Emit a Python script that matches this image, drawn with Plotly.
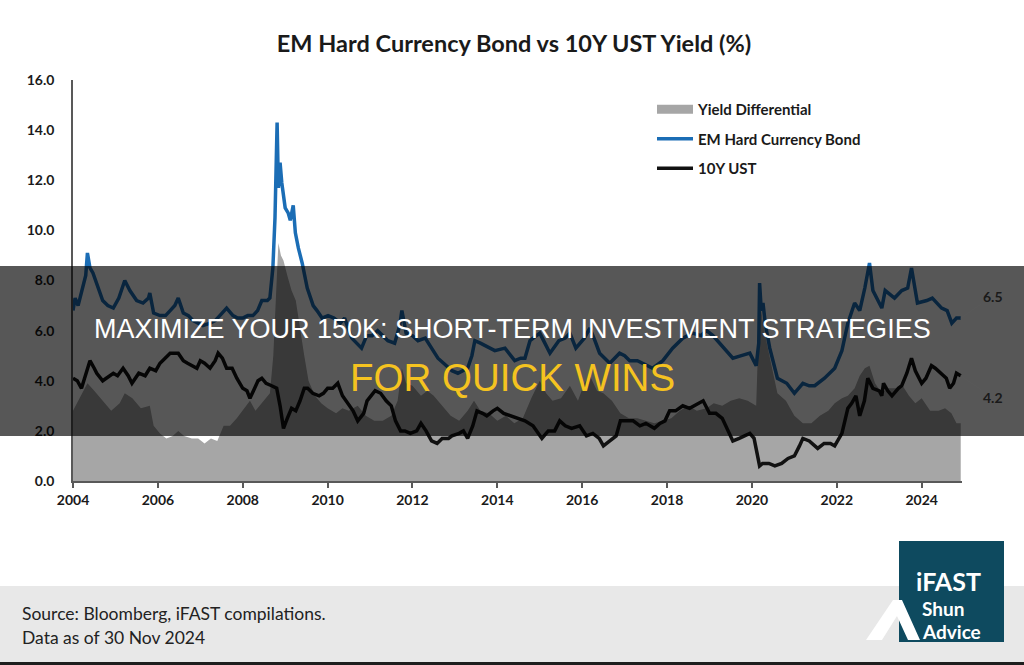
import plotly.graph_objects as go

# ---------------- data ----------------
em_x = [2004.00, 2004.05, 2004.12, 2004.22, 2004.30, 2004.34, 2004.40, 2004.47, 2004.56, 2004.70,
        2004.82, 2004.95, 2005.08, 2005.22, 2005.34, 2005.50, 2005.65, 2005.78, 2005.81, 2005.90,
        2006.05, 2006.18, 2006.29, 2006.40, 2006.48, 2006.60, 2006.72, 2006.83, 2006.95, 2007.06,
        2007.23, 2007.35, 2007.46, 2007.55, 2007.62, 2007.77, 2007.88, 2008.00, 2008.12, 2008.24,
        2008.35, 2008.45, 2008.58, 2008.64, 2008.71, 2008.76, 2008.81, 2008.84, 2008.88, 2008.92,
        2009.00, 2009.07, 2009.12, 2009.19, 2009.24, 2009.31, 2009.40, 2009.52, 2009.66, 2009.75,
        2009.87, 2010.01, 2010.15, 2010.30, 2010.40, 2010.57, 2010.80, 2010.92, 2011.05, 2011.18,
        2011.30, 2011.42, 2011.58, 2011.70, 2011.75, 2011.85, 2012.00, 2012.13, 2012.30, 2012.45,
        2012.60, 2012.80, 2012.93, 2013.07, 2013.30, 2013.40, 2013.47, 2013.60, 2013.80, 2013.94,
        2014.18, 2014.41, 2014.55, 2014.65, 2014.77, 2015.00, 2015.12, 2015.24, 2015.45, 2015.60,
        2015.71, 2015.85, 2016.05, 2016.18, 2016.30, 2016.41, 2016.65, 2016.88, 2017.00, 2017.12,
        2017.30, 2017.43, 2017.66, 2017.90, 2018.13, 2018.37, 2018.60, 2018.80, 2018.93, 2019.08,
        2019.24, 2019.40, 2019.55, 2019.75, 2019.95, 2020.10, 2020.16, 2020.18, 2020.22, 2020.26,
        2020.32, 2020.42, 2020.60, 2020.82, 2021.00, 2021.20, 2021.35, 2021.48, 2021.71, 2021.95,
        2022.12, 2022.26, 2022.42, 2022.54, 2022.66, 2022.77, 2022.85, 2023.06, 2023.14, 2023.36,
        2023.53, 2023.67, 2023.76, 2023.90, 2024.12, 2024.25, 2024.47, 2024.60, 2024.71, 2024.82,
        2024.92]
em_y = [6.8, 7.3, 7.0, 7.6, 8.2, 9.1, 8.5, 8.3, 7.9, 7.2,
        7.0, 6.9, 7.3, 8.0, 7.6, 7.2, 7.1, 7.3, 7.5, 6.7,
        6.6, 6.6, 6.8, 7.0, 7.3, 6.7, 6.6, 6.4, 6.3, 6.2,
        6.3, 6.4, 6.6, 6.8, 6.9, 6.6, 6.5, 6.5, 6.6, 6.6,
        6.8, 7.2, 7.2, 7.3, 8.5, 10.5, 14.3, 11.7, 12.7, 11.9,
        10.9, 10.7, 10.4, 11.0, 9.9, 9.3, 8.7, 7.7, 7.0, 6.8,
        6.5, 6.6, 6.5, 6.3, 6.5, 5.7, 5.3, 5.8, 5.8, 6.0,
        5.8, 5.6, 5.5, 6.2, 6.8, 5.9, 5.8, 5.6, 5.7, 5.3,
        4.9, 4.6, 4.4, 4.3, 4.5, 5.0, 5.6, 5.5, 5.3, 5.2,
        5.3, 4.8, 4.9, 4.9, 5.6, 5.9, 5.5, 5.1, 5.6, 5.7,
        5.9, 5.3, 5.7, 6.1, 5.6, 5.1, 4.7, 5.1, 5.0, 4.8,
        4.8, 4.7, 4.5, 4.8, 5.3, 5.7, 5.9, 5.8, 6.0, 5.8,
        5.5, 5.2, 4.9, 5.0, 5.1, 4.6, 5.5, 7.9, 6.8, 7.1,
        6.2, 5.3, 4.1, 3.9, 3.5, 3.9, 3.8, 3.8, 4.1, 4.5,
        5.2, 6.3, 7.1, 6.8, 7.7, 8.7, 7.6, 6.9, 7.6, 7.3,
        7.6, 7.7, 8.5, 7.1, 7.2, 7.3, 6.9, 6.8, 6.3, 6.5,
        6.5]

ust_x = [2004.00, 2004.10, 2004.20, 2004.32, 2004.40, 2004.50, 2004.56, 2004.70, 2004.85, 2004.95,
         2005.05, 2005.18, 2005.30, 2005.39, 2005.55, 2005.70, 2005.81, 2005.95, 2006.05, 2006.18,
         2006.29, 2006.48, 2006.60, 2006.70, 2006.80, 2006.92, 2007.00, 2007.10, 2007.23, 2007.35,
         2007.42, 2007.52, 2007.62, 2007.75, 2007.86, 2008.00, 2008.10, 2008.17, 2008.28, 2008.36,
         2008.45, 2008.55, 2008.68, 2008.80, 2008.88, 2008.96, 2009.05, 2009.15, 2009.25, 2009.35,
         2009.45, 2009.53, 2009.65, 2009.80, 2009.90, 2010.00, 2010.12, 2010.24, 2010.35, 2010.48,
         2010.60, 2010.71, 2010.85, 2010.93, 2011.12, 2011.25, 2011.38, 2011.50, 2011.60, 2011.72,
         2011.82, 2011.95, 2012.10, 2012.20, 2012.32, 2012.45, 2012.58, 2012.70, 2012.85, 2012.93,
         2013.10, 2013.20, 2013.30, 2013.42, 2013.52, 2013.65, 2013.75, 2013.90, 2014.00, 2014.15,
         2014.30, 2014.48, 2014.65, 2014.84, 2015.05, 2015.20, 2015.35, 2015.47, 2015.60, 2015.75,
         2015.94, 2016.10, 2016.25, 2016.40, 2016.50, 2016.65, 2016.80, 2016.90, 2017.00, 2017.20,
         2017.36, 2017.50, 2017.70, 2017.83, 2017.95, 2018.06, 2018.20, 2018.37, 2018.53, 2018.77,
         2018.85, 2019.00, 2019.15, 2019.30, 2019.42, 2019.55, 2019.70, 2019.85, 2019.95, 2020.05,
         2020.14, 2020.18, 2020.25, 2020.40, 2020.54, 2020.70, 2020.85, 2021.00, 2021.12, 2021.20,
         2021.35, 2021.55, 2021.70, 2021.85, 2021.95, 2022.12, 2022.26, 2022.35, 2022.45, 2022.54,
         2022.65, 2022.73, 2022.85, 2023.00, 2023.06, 2023.10, 2023.20, 2023.30, 2023.45, 2023.53,
         2023.65, 2023.76, 2023.85, 2024.00, 2024.10, 2024.23, 2024.32, 2024.45, 2024.58, 2024.66,
         2024.75, 2024.82, 2024.92]
ust_y = [4.1, 4.0, 3.7, 4.4, 4.8, 4.5, 4.3, 4.0, 4.2, 4.3,
         4.2, 4.5, 4.2, 3.9, 4.3, 4.2, 4.5, 4.4, 4.7, 4.9,
         5.1, 5.1, 4.8, 4.7, 4.6, 4.5, 4.8, 4.7, 4.5, 4.8,
         5.1, 4.9, 4.5, 4.5, 4.1, 3.7, 3.6, 3.3, 3.7, 4.0,
         4.1, 3.9, 3.8, 3.7, 3.0, 2.1, 2.5, 2.9, 2.8, 3.2,
         3.7, 3.7, 3.5, 3.4, 3.5, 3.7, 3.7, 3.9, 3.4, 3.1,
         2.8, 2.4, 2.7, 3.2, 3.6, 3.5, 3.2, 3.0, 2.4, 2.0,
         2.0, 1.9, 2.0, 2.3, 2.0, 1.6, 1.5, 1.7, 1.7, 1.8,
         1.9, 2.0, 1.7, 2.2, 2.8, 2.7, 2.6, 2.8, 2.9, 2.7,
         2.6, 2.5, 2.4, 2.2, 1.7, 2.0, 2.0, 2.4, 2.2, 2.1,
         2.2, 1.8, 1.9, 1.7, 1.4, 1.6, 1.8, 2.4, 2.4, 2.4,
         2.2, 2.3, 2.1, 2.3, 2.4, 2.8, 2.8, 3.0, 2.9, 3.1,
         3.2, 2.7, 2.7, 2.5, 2.1, 1.6, 1.7, 1.8, 1.9, 1.7,
         1.0, 0.6, 0.7, 0.7, 0.6, 0.7, 0.9, 1.0, 1.4, 1.7,
         1.6, 1.3, 1.5, 1.5, 1.4, 1.9, 2.9, 3.1, 3.4, 2.6,
         3.2, 4.1, 3.7, 3.6, 3.4, 3.9, 3.6, 3.4, 3.7, 3.8,
         4.3, 4.9, 4.4, 3.9, 4.1, 4.6, 4.5, 4.3, 4.1, 3.7,
         3.9, 4.3, 4.2]

diff_x = [2004.00, 2004.15, 2004.34, 2004.50, 2004.70, 2004.90, 2005.10, 2005.22, 2005.40, 2005.60,
          2005.81, 2005.90, 2006.05, 2006.20, 2006.35, 2006.48, 2006.62, 2006.80, 2006.95, 2007.10,
          2007.25, 2007.40, 2007.55, 2007.70, 2007.86, 2008.00, 2008.17, 2008.30, 2008.45, 2008.64,
          2008.72, 2008.80, 2008.84, 2008.90, 2008.96, 2009.05, 2009.15, 2009.25, 2009.35, 2009.45,
          2009.55, 2009.70, 2009.85, 2010.00, 2010.20, 2010.35, 2010.50, 2010.71, 2010.90, 2011.10,
          2011.30, 2011.50, 2011.65, 2011.75, 2011.85, 2012.00, 2012.20, 2012.35, 2012.50, 2012.70,
          2012.90, 2013.10, 2013.30, 2013.45, 2013.60, 2013.80, 2014.00, 2014.20, 2014.40, 2014.60,
          2014.80, 2015.00, 2015.15, 2015.30, 2015.50, 2015.71, 2015.90, 2016.05, 2016.18, 2016.35,
          2016.50, 2016.70, 2016.90, 2017.10, 2017.30, 2017.50, 2017.70, 2017.90, 2018.10, 2018.30,
          2018.50, 2018.70, 2018.93, 2019.10, 2019.30, 2019.50, 2019.70, 2019.90, 2020.10, 2020.18,
          2020.25, 2020.35, 2020.45, 2020.60, 2020.80, 2021.00, 2021.20, 2021.40, 2021.60, 2021.80,
          2021.95, 2022.12, 2022.26, 2022.42, 2022.54, 2022.66, 2022.77, 2022.90, 2023.06, 2023.20,
          2023.40, 2023.55, 2023.70, 2023.85, 2024.00, 2024.20, 2024.40, 2024.55, 2024.70, 2024.82,
          2024.92]
diff_y = [2.8, 3.3, 3.9, 3.6, 3.2, 2.8, 3.1, 3.5, 3.3, 2.9,
          3.0, 2.2, 1.9, 1.7, 1.8, 2.0, 1.8, 1.7, 1.7, 1.5,
          1.7, 1.6, 2.2, 2.2, 2.5, 2.8, 3.2, 2.8, 3.1, 3.5,
          5.0, 8.5, 9.5, 9.0, 8.8, 8.2, 7.6, 7.2, 6.0, 5.0,
          4.0, 3.4, 3.1, 2.9, 2.7, 2.9, 2.8, 3.0, 2.6, 2.4,
          2.4, 2.6, 3.2, 4.5, 3.9, 3.8, 3.4, 3.6, 3.4, 3.0,
          2.6, 2.4, 2.8, 3.2, 2.8, 2.7, 2.4, 2.6, 2.3, 2.5,
          3.3, 4.0, 3.5, 3.2, 3.3, 3.8, 3.2, 3.9, 4.2, 3.6,
          3.5, 3.2, 2.7, 2.5, 2.5, 2.4, 2.3, 2.4, 2.5, 2.8,
          3.0, 2.8, 2.9, 3.1, 3.0, 3.2, 3.3, 3.2, 3.0, 7.3,
          6.4, 5.5, 4.7, 3.5, 3.2, 2.6, 2.3, 2.3, 2.6, 2.8,
          3.1, 3.3, 3.4, 3.7, 4.2, 4.5, 4.6, 3.9, 3.5, 3.7,
          3.7, 3.8, 3.4, 3.1, 3.3, 2.8, 2.8, 2.9, 2.7, 2.3,
          2.3]

x_ticks = [2004, 2006, 2008, 2010, 2012, 2014, 2016, 2018, 2020, 2022, 2024]
x_tick_labels = ["2004", "2006", "2008", "2010", "2012", "2014", "2016", "2018", "2020", "2022", "2024"]
y_ticks = [0, 2, 4, 6, 8, 10, 12, 14, 16]
y_tick_labels = ["0.0", "2.0", "4.0", "6.0", "8.0", "10.0", "12.0", "14.0", "16.0"]

series_names = ["Yield Differential", "EM Hard Currency Bond", "10Y UST"]
title_text = "EM Hard Currency Bond vs 10Y UST Yield (%)"
banner_line1 = "MAXIMIZE YOUR 150K: SHORT-TERM INVESTMENT STRATEGIES"
banner_line2 = "FOR QUICK WINS"
footer_lines = ["Source: Bloomberg, iFAST compilations.", "Data as of 30 Nov 2024"]
logo_lines = ["iFAST", "Shun", "Advice"]

# ---------------- geometry helpers ----------------
W, H = 1024, 665
ML, MR, MT, MB = 73, 62, 80, 184
PW = W - ML - MR
PH = H - MT - MB


def px(x):
    return (x - ML) / PW


def py(y):
    return (H - MB - y) / PH


FONT = "Lato"
TXT = "#1a1a1a"
GRAY = "#a6a6a6"

fig = go.Figure()
# area (legend entry drawn by a rectangular proxy below)
fig.add_trace(go.Scatter(
    x=diff_x, y=diff_y, name=series_names[0], mode="lines",
    fill="tozeroy", fillcolor=GRAY, line=dict(width=0, color=GRAY),
    legendgroup="g1", showlegend=False))
fig.add_trace(go.Scatter(
    x=[None], y=[None], name=series_names[0], mode="lines",
    line=dict(width=9, color=GRAY), legendgroup="g1", showlegend=True))
fig.add_trace(go.Scatter(
    x=em_x, y=em_y, name=series_names[1], mode="lines",
    line=dict(width=3.5, color="#1b6db5"), legendgroup="g2"))
fig.add_trace(go.Scatter(
    x=ust_x, y=ust_y, name=series_names[2], mode="lines",
    line=dict(width=3.5, color="#111111"), legendgroup="g3"))

shapes = [
    # dark banner across the chart
    dict(type="rect", xref="paper", yref="paper", x0=px(0), x1=px(W), y0=py(436), y1=py(266),
         fillcolor="rgba(0,0,0,0.66)", line=dict(width=0), layer="above"),
    # footer band
    dict(type="rect", xref="paper", yref="paper", x0=px(0), x1=px(W), y0=py(662), y1=py(586),
         fillcolor="#e8e8e8", line=dict(width=0), layer="above"),
    dict(type="rect", xref="paper", yref="paper", x0=px(0), x1=px(W), y0=py(666), y1=py(662),
         fillcolor="#1e1e1e", line=dict(width=0), layer="above"),
    # logo box
    dict(type="rect", xref="paper", yref="paper", x0=px(899), x1=px(1004), y0=py(642), y1=py(541),
         fillcolor="#0e4a5f", line=dict(width=0), layer="above"),
]
# white logo mark
logo_pts = [(866, 640), (893, 600), (902, 600), (920, 640), (908, 640), (897, 616), (882, 640)]
path = "M " + " L ".join(f"{px(a):.5f},{py(b):.5f}" for a, b in logo_pts) + " Z"
shapes.append(dict(type="path", xref="paper", yref="paper", path=path,
                   fillcolor="#ffffff", line=dict(width=0), layer="above"))

annotations = [
    dict(x=em_x[-1], y=em_y[-1], xref="x", yref="y", text=f"<b>{em_y[-1]:.1f}</b>",
         showarrow=True, arrowhead=0, arrowwidth=1, arrowcolor="#595959",
         ax=32, ay=-22, xanchor="center", font=dict(family=FONT, size=14, color=TXT)),
    dict(x=ust_x[-1], y=ust_y[-1], xref="x", yref="y", text=f"<b>{ust_y[-1]:.1f}</b>",
         showarrow=True, arrowhead=0, arrowwidth=1, arrowcolor="#595959",
         ax=32, ay=22, xanchor="center", font=dict(family=FONT, size=14, color=TXT)),
    dict(x=px(512), y=py(329), xref="paper", yref="paper", text=banner_line1, showarrow=False,
         xanchor="center", yanchor="middle",
         font=dict(family="Liberation Sans", size=27, color="#ffffff")),
    dict(x=px(512), y=py(377), xref="paper", yref="paper", text=banner_line2, showarrow=False,
         xanchor="center", yanchor="middle",
         font=dict(family="Liberation Sans", size=38.5, color="#f5c320")),
    dict(x=px(20), y=py(613), xref="paper", yref="paper", text=footer_lines[0], showarrow=False,
         xanchor="left", yanchor="middle", font=dict(family=FONT, size=17.5, color="#222222")),
    dict(x=px(20), y=py(637), xref="paper", yref="paper", text=footer_lines[1], showarrow=False,
         xanchor="left", yanchor="middle", font=dict(family=FONT, size=17.5, color="#222222")),
    dict(x=px(948), y=py(581), xref="paper", yref="paper", text=f"<b>{logo_lines[0]}</b>",
         showarrow=False, xanchor="center", yanchor="middle",
         font=dict(family=FONT, size=25, color="#ffffff")),
    dict(x=px(920), y=py(608), xref="paper", yref="paper", text=f"<b>{logo_lines[1]}</b>",
         showarrow=False, xanchor="left", yanchor="middle",
         font=dict(family=FONT, size=19, color="#ffffff")),
    dict(x=px(920), y=py(631), xref="paper", yref="paper", text=f"<b>{logo_lines[2]}</b>",
         showarrow=False, xanchor="left", yanchor="middle",
         font=dict(family=FONT, size=19, color="#ffffff")),
]

fig.update_layout(
    width=W, height=H,
    margin=dict(l=ML, r=MR, t=MT, b=MB),
    paper_bgcolor="#ffffff", plot_bgcolor="#ffffff",
    title=dict(text=f"<b>{title_text}</b>", x=0.502, xref="container", xanchor="center",
               y=1 - 44 / H, yref="container", yanchor="middle",
               font=dict(family=FONT, size=23.5, color=TXT)),
    showlegend=True,
    legend=dict(x=px(652), y=py(93), xanchor="left", yanchor="top",
                bgcolor="rgba(0,0,0,0)", tracegroupgap=7, traceorder="grouped",
                itemwidth=36,
                font=dict(family=FONT, size=15, color=TXT, weight="bold")),
    xaxis=dict(range=[2004, 2024.95], tickvals=x_ticks, ticktext=x_tick_labels,
               showgrid=False, zeroline=False, showline=True, linecolor="#595959", linewidth=1.5,
               ticks="outside", ticklen=5, tickwidth=1.5, tickcolor="#595959",
               tickfont=dict(family=FONT, size=14, color=TXT, weight="bold")),
    yaxis=dict(range=[0, 16], tickvals=y_ticks, ticktext=y_tick_labels,
               showgrid=False, zeroline=False, showline=True, linecolor="#595959", linewidth=1.5,
               ticks="", ticklabelstandoff=14,
               tickfont=dict(family=FONT, size=14, color=TXT, weight="bold")),
    shapes=shapes,
    annotations=annotations,
)

fig.write_html("out.html")
